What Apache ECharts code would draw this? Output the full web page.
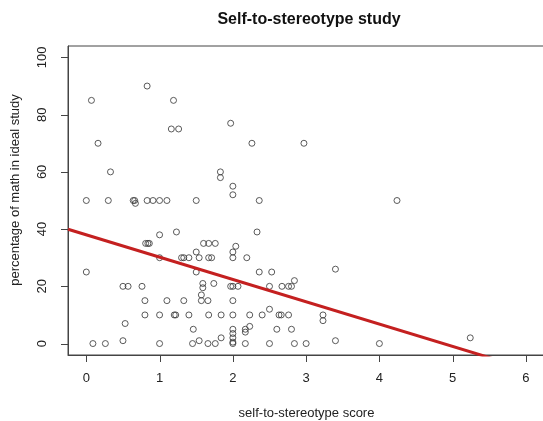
<!DOCTYPE html>
<html>
<head>
<meta charset="utf-8">
<script src="https://cdn.jsdelivr.net/npm/echarts@6/dist/echarts.min.js"></script>
<style>
  html, body { margin: 0; padding: 0; background: #fff; }
  #chart { width: 543px; height: 421px; }
</style>
</head>
<body>
<div id="chart"></div>
<script>
// self-to-stereotype score
const scoreX = [
  0.07, 0.83, 1.19, 1.16, 1.26, 0.16, 0.33, 1.83, 1.83, 2.0,
  2.0, 1.97, 2.26, 2.97, 2.36, 4.24, 0.0, 0.30, 0.64, 0.66,
  0.67, 0.83, 0.91, 1.0, 1.1, 1.5, 2.33, 2.04, 2.0, 2.0,
  2.19, 2.36, 2.53, 3.40, 2.84, 1.97, 2.0, 2.07, 2.50, 2.67,
  2.76, 2.80, 2.0, 2.0, 2.23, 2.40, 2.63, 2.66, 2.76, 2.50,
  3.23, 3.23, 2.23, 2.17, 2.17, 2.6, 2.8, 2.0, 2.0, 2.0,
  2.0, 2.0, 2.17, 2.5, 2.84, 3.0, 3.40, 4.0, 5.24, 1.0,
  1.23, 0.81, 0.84, 0.86, 1.6, 1.67, 1.76, 1.5, 1.0, 1.30,
  1.33, 1.40, 1.54, 1.67, 1.71, 0.0, 1.5, 0.5, 0.57, 0.76,
  1.59, 1.59, 1.74, 1.57, 0.80, 1.1, 1.33, 1.57, 1.66, 0.80,
  1.0, 1.20, 1.22, 1.40, 1.67, 1.84, 0.53, 1.46, 0.5, 0.09,
  0.26, 1.0, 1.45, 1.54, 1.66, 1.76, 1.84
];
// percentage of math in ideal study
const mathPct = [
  85, 90, 85, 75, 75, 70, 60, 60, 58, 55,
  52, 77, 70, 70, 50, 50, 50, 50, 50, 50,
  49, 50, 50, 50, 50, 50, 39, 34, 32, 30,
  30, 25, 25, 26, 22, 20, 20, 20, 20, 20,
  20, 20, 15, 10, 10, 10, 10, 10, 10, 12,
  10, 8, 6, 5, 4, 5, 5, 5, 3.5, 2,
  0.5, 0, 0, 0, 0, 0, 1, 0, 2, 38,
  39, 35, 35, 35, 35, 35, 35, 32, 30, 30,
  30, 30, 30, 30, 30, 25, 25, 20, 20, 20,
  21, 19.5, 21, 17, 15, 15, 15, 15, 15, 10,
  10, 10, 10, 10, 10, 10, 7, 5, 1, 0,
  0, 0, 0, 1, 0, 0, 2
];
const xTicks = [0, 1, 2, 3, 4, 5, 6];
const yTicks = [0, 20, 40, 60, 80, 100];
// fitted line: intercept and slope
const fitIntercept = 38.0;
const fitSlope = -7.8;
const xRange = [-0.25, 6.26];
const yRange = [-4, 104];

const points = scoreX.map((x, i) => [x, mathPct[i]]);
const fitLine = xRange.map(x => [x, fitIntercept + fitSlope * x]);

const font = "Liberation Sans, Arial, sans-serif";
const tickLine = { color: "#444", width: 1 };
const chart = echarts.init(document.getElementById("chart"));
chart.setOption({
  animation: false,
  backgroundColor: "#fff",
  title: {
    text: "Self-to-stereotype study",
    left: 304,
    top: 7,
    textAlign: "center",
    textStyle: { fontFamily: font, fontSize: 16, fontWeight: "bold", color: "#111" }
  },
  grid: {
    left: 68, top: 46, width: 477, height: 309,
    outerBoundsMode: "none",
    show: true, borderColor: "#444", borderWidth: 1, backgroundColor: "transparent"
  },
  xAxis: {
    type: "value",
    position: "bottom",
    min: xRange[0], max: xRange[1],
    name: "self-to-stereotype score",
    nameLocation: "middle",
    nameGap: 52,
    nameTextStyle: { fontFamily: font, fontSize: 13, color: "#222" },
    axisLine: { show: true, onZero: false, lineStyle: tickLine },
    axisTick: { show: false },
    axisLabel: { fontFamily: font, fontSize: 13, color: "#222", margin: 17, customValues: xTicks },
    splitLine: { show: false }
  },
  yAxis: {
    type: "value",
    position: "left",
    min: yRange[0], max: yRange[1],
    axisLine: { show: true, onZero: false, lineStyle: tickLine },
    axisTick: { show: false },
    axisLabel: {
      fontFamily: font, fontSize: 13, color: "#222", rotate: 90,
      align: "center", verticalAlign: "bottom", margin: 19, customValues: yTicks
    },
    splitLine: { show: false }
  },
  series: [
    {
      type: "scatter",
      data: points,
      symbol: "circle",
      symbolSize: 6,
      itemStyle: { color: "rgba(0,0,0,0)", borderColor: "#333", borderWidth: 1 }
    },
    {
      type: "line",
      data: fitLine,
      symbol: "none",
      clip: true,
      lineStyle: { color: "#c42020", width: 3 },
      z: 3
    }
  ]
});

// outward tick marks, placed through the axes' own scales
const snap = v => Math.round(v) + 0.5;
const tickEls = [];
xTicks.forEach(v => {
  const p = chart.convertToPixel({ gridIndex: 0 }, [v, yRange[0]]);
  tickEls.push({
    type: "line", silent: true,
    shape: { x1: snap(p[0]), y1: p[1], x2: snap(p[0]), y2: p[1] + 7 },
    style: { stroke: "#444", lineWidth: 1 }
  });
});
yTicks.forEach(v => {
  const p = chart.convertToPixel({ gridIndex: 0 }, [xRange[0], v]);
  tickEls.push({
    type: "line", silent: true,
    shape: { x1: p[0] - 7, y1: snap(p[1]), x2: p[0], y2: snap(p[1]) },
    style: { stroke: "#444", lineWidth: 1 }
  });
});
chart.setOption({
  graphic: [{
    type: "text",
    x: 15, y: 190,
    rotation: Math.PI / 2,
    style: {
      text: "percentage of math in ideal study",
      font: "13px " + font,
      fill: "#222",
      align: "center",
      verticalAlign: "middle"
    }
  }].concat(tickEls)
});
</script>
</body>
</html>
